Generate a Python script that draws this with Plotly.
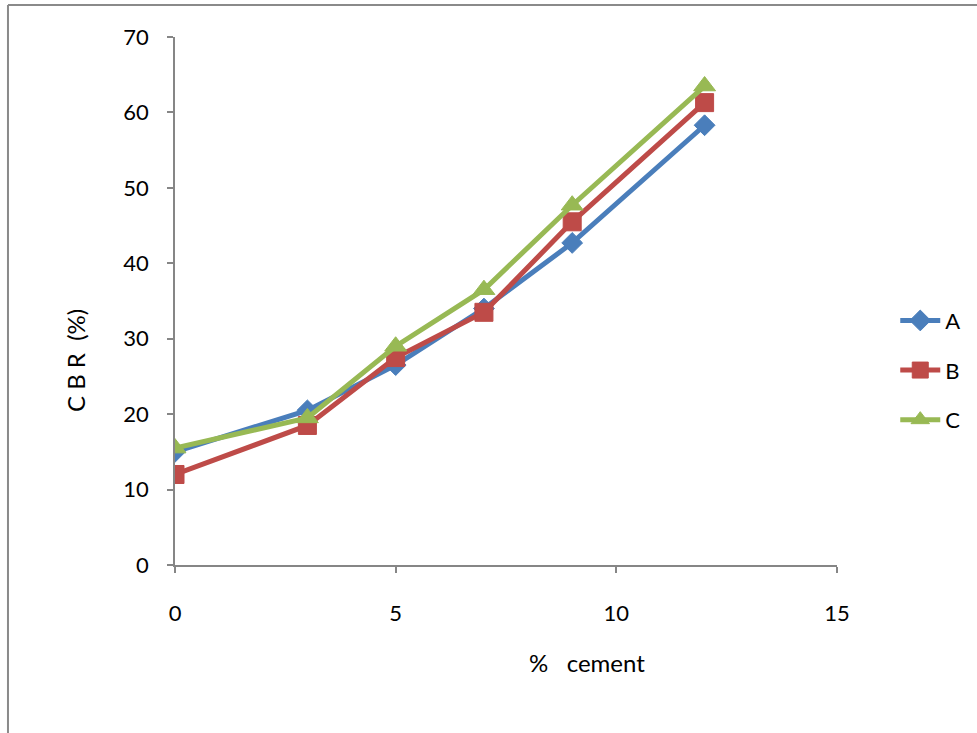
import plotly.graph_objects as go

# % cement content and CBR values for the three soils
cement = [0, 3, 5, 7, 9, 12]
cbr_a = [15.0, 20.5, 26.5, 34.0, 42.7, 58.3]
cbr_b = [12.0, 18.5, 27.5, 33.5, 45.5, 61.3]
cbr_c = [15.5, 19.5, 29.0, 36.5, 47.7, 63.5]

series = [
    ("A", cbr_a, "#4A7EBB", "diamond", 16),
    ("B", cbr_b, "#BE4B48", "square", 18),
    ("C", cbr_c, "#98B954", "triangle-up", 19),
]

fig = go.Figure()
for name, vals, color, symbol, size in series:
    fig.add_trace(go.Scatter(
        x=cement, y=vals, name=name, mode="lines+markers",
        legendgroup=name,
        line=dict(color=color, width=5),
        marker=dict(symbol=symbol, size=size, color=color,
                    line=dict(color=color, width=1)),
    ))

axis_color = "#868686"
family = "Lato, sans-serif"

fig.update_layout(
    width=977, height=733,
    paper_bgcolor="white", plot_bgcolor="white",
    margin=dict(l=175, r=140, t=37, b=168, autoexpand=False),
    font=dict(family=family, size=22, color="black"),
    showlegend=True,
    legend=dict(x=1.088, y=0.369, xanchor="left", yanchor="middle",
                font=dict(size=22), tracegroupgap=18, itemwidth=40,
                bgcolor="rgba(0,0,0,0)"),
    xaxis=dict(range=[0, 15], tickvals=[0, 5, 10, 15], showgrid=False,
               zeroline=False, showline=True, linecolor=axis_color, linewidth=1.5,
               ticks="outside", ticklen=6, tickcolor=axis_color, tickwidth=1.5,
               ticklabelstandoff=22),
    yaxis=dict(range=[0, 70], tickvals=list(range(0, 71, 10)), showgrid=False,
               zeroline=False, showline=True, linecolor=axis_color, linewidth=1.5,
               ticks="outside", ticklen=6, tickcolor=axis_color, tickwidth=1.5,
               ticklabelstandoff=14),
)

# axis titles
fig.add_annotation(text="%   cement", xref="paper", yref="paper",
                   x=(587 - 175) / 662, y=(565 - 662) / 528,
                   xanchor="center", yanchor="middle", showarrow=False,
                   font=dict(size=24))
fig.add_annotation(text="C B R  (%)", xref="paper", yref="paper",
                   x=(75 - 175) / 662, y=(565 - 361) / 528, textangle=-90,
                   xanchor="center", yanchor="middle", showarrow=False,
                   font=dict(size=24))

# outer chart frame
fig.add_shape(type="line", xref="paper", yref="paper",
              x0=-0.2523, x1=-0.2523, y0=1.0606, y1=-0.4,
              line=dict(color="#8A8A8A", width=2))
fig.add_shape(type="line", xref="paper", yref="paper",
              x0=-0.2523, x1=1.3, y0=1.0606, y1=1.0606,
              line=dict(color="#8A8A8A", width=2))

fig.write_html("out.html")
